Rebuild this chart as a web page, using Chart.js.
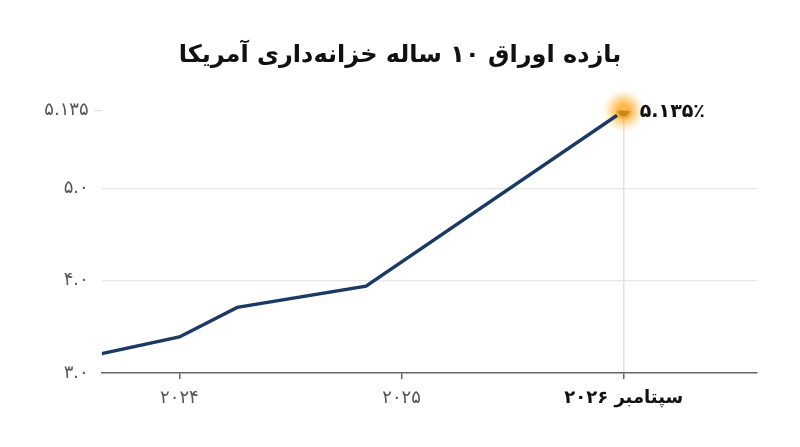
<!DOCTYPE html>
<html lang="fa">
<head>
<meta charset="utf-8">
<title>بازده اوراق ۱۰ ساله خزانه‌داری آمریکا</title>
<script src="https://cdn.jsdelivr.net/npm/chart.js@4"></script>
<style>
  html, body { margin: 0; padding: 0; background: #fff; }
  #wrap { width: 800px; height: 447px; position: relative; }
</style>
</head>
<body>
<div id="wrap"><canvas id="myChart"></canvas></div>
<script>
// Data

const titleText = 'بازده اوراق ۱۰ ساله خزانه‌داری آمریکا';
const yearTicks = [2024, 2025, 2026];
const yearLabels = ['۲۰۲۴', '۲۰۲۵', 'سپتامبر ۲۰۲۶'];
const pointYears = [2023.65, 2024.0, 2024.26, 2024.84, 2026.0];
const yieldValues = [3.21, 3.39, 3.71, 3.94, 5.135];
const yTicks = [3, 4, 5, 5.135];
const yLabels = ['۳.۰', '۴.۰', '۵.۰', '۵.۱۳۵'];
const lastLabel = '۵.۱۳۵٪';

// The picture stretches the axis above 5.0 so the last value sits on top
function warp(v) {
  return v <= 5 ? v : 5 + (v - 5) * 6.2;
}

const font = '"DejaVu Sans", "Noto Sans", sans-serif';
const lastIndex = yieldValues.length - 1;

const glowPlugin = {
  id: 'glow',
  beforeDatasetsDraw(chart) {
    const pt = chart.getDatasetMeta(0).data[lastIndex];
    const c = chart.ctx;
    const g = c.createRadialGradient(pt.x, pt.y, 6, pt.x, pt.y, 22);
    g.addColorStop(0, 'rgba(255,165,30,0.8)');
    g.addColorStop(0.4, 'rgba(255,180,60,0.5)');
    g.addColorStop(0.75, 'rgba(255,200,100,0.18)');
    g.addColorStop(1, 'rgba(255,215,130,0)');
    c.save();
    c.fillStyle = g;
    c.beginPath();
    c.arc(pt.x, pt.y, 22, 0, Math.PI * 2);
    c.fill();
    c.restore();
  },
  afterDatasetsDraw(chart) {
    const pt = chart.getDatasetMeta(0).data[lastIndex];
    const c = chart.ctx;
    c.save();
    c.font = 'bold 19px ' + font;
    c.fillStyle = '#111';
    c.textAlign = 'left';
    c.textBaseline = 'middle';
    c.fillText(lastLabel, pt.x + 16, pt.y + 1);
    c.restore();
  }
};

const ctx = document.getElementById('myChart').getContext('2d');

const chart = new Chart(ctx, {
  type: 'line',
  data: {
    datasets: [{
      data: pointYears.map((x, i) => ({ x: x, y: warp(yieldValues[i]) })),
      borderColor: '#1B3A63',
      borderWidth: 3.5,
      tension: 0,
      pointRadius: (c) => c.dataIndex === lastIndex ? 7 : 0,
      pointHoverRadius: 0,
      pointBackgroundColor: '#C98818',
      pointBorderColor: '#F5B040',
      pointBorderWidth: 2.5,
    }]
  },
  plugins: [glowPlugin],
  options: {
    responsive: true,
    maintainAspectRatio: false,
    animation: false,
    devicePixelRatio: 1,
    layout: { padding: { left: 43, right: 43, top: 0, bottom: 0 } },
    plugins: {
      legend: { display: false },
      tooltip: { enabled: false },
      title: {
        display: true,
        text: titleText,
        color: '#111',
        font: { family: font, size: 24, weight: 'bold' },
        padding: { top: 41, bottom: 41 },
      },
    },
    scales: {
      x: {
        type: 'linear',
        min: 2023.65,
        max: 2026.6,
        afterBuildTicks: (scale) => { scale.ticks = yearTicks.map(v => ({ value: v })); },
        afterFit: (scale) => { scale.height = 74; },
        border: { color: '#666', width: 1.5 },
        grid: {
          color: (c) => c.index === 2 ? '#e2e2e2' : 'rgba(0,0,0,0)',
          tickColor: '#666',
          tickLength: 6,
          lineWidth: 1.5,
        },
        ticks: {
          padding: 9,
          maxRotation: 0,
          callback: (value, index) => yearLabels[index],
          color: (c) => c.index === 2 ? '#111' : '#555',
          font: (c) => ({ family: font, size: 18, weight: c.index === 2 ? 'bold' : 'normal' }),
        },
      },
      y: {
        type: 'linear',
        min: 3,
        max: warp(5.135),
        afterBuildTicks: (scale) => { scale.ticks = yTicks.map(v => ({ value: warp(v) })); },
        afterFit: (scale) => { scale.width = 58.7; },
        border: { display: false },
        grid: {
          color: (c) => (c.index === 1 || c.index === 2) ? '#e6e6e6' : 'rgba(0,0,0,0)',
          tickColor: (c) => c.index === 3 ? '#dddddd' : 'rgba(0,0,0,0)',
          tickLength: 7,
          lineWidth: 1.2,
        },
        ticks: {
          padding: 6,
          color: '#555',
          font: { family: font, size: 18 },
          callback: (value, index) => yLabels[index],
        },
      },
    },
  },
});
</script>
</body>
</html>
